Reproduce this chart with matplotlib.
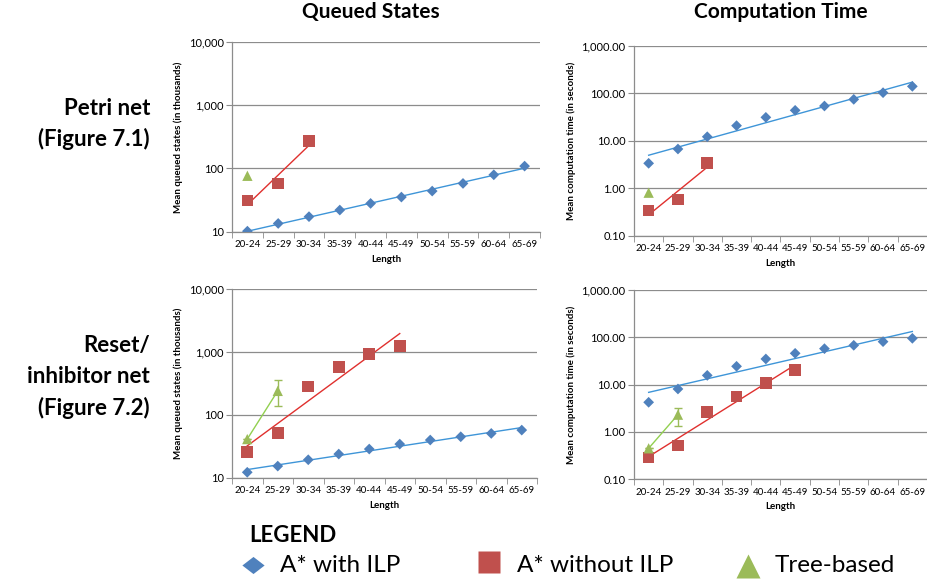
import numpy as np
import matplotlib
matplotlib.use("Agg")
import matplotlib.pyplot as plt
from matplotlib.lines import Line2D
from matplotlib.ticker import FuncFormatter, FixedLocator, NullLocator

plt.rcParams['font.family'] = ['Lato', 'DejaVu Sans']

categories = ["20-24", "25-29", "30-34", "35-39", "40-44", "45-49",
              "50-54", "55-59", "60-64", "65-69"]

# Petri net - queued states (thousands)
pn_qs_ilp = [10.2, 13.5, 17.3, 22.0, 28.0, 35.3, 43.9, 58.0, 79.4, 109.0]
pn_qs_noilp = [31.2, 58.0, 270.0]
pn_qs_tree = [76.6]
# Petri net - computation time (s)
pn_ct_ilp = [3.36, 6.73, 12.2, 20.9, 31.3, 44.0, 54.3, 75.0, 103.7, 141.0]
pn_ct_noilp = [0.337, 0.584, 3.41]
pn_ct_tree = [0.807]
# Reset/inhibitor net - queued states (thousands)
ri_qs_ilp = [12.2, 15.3, 19.3, 23.8, 28.6, 34.3, 39.8, 44.9, 50.7, 57.3]
ri_qs_noilp = [25.6, 52.0, 283.0, 582.0, 925.0, 1256.0]
ri_qs_tree = [41.2, 241.0]
ri_qs_tree_lo = [41.2, 140.0]
ri_qs_tree_hi = [41.2, 363.0]
# Reset/inhibitor net - computation time (s)
ri_ct_ilp = [4.24, 8.1, 15.7, 24.4, 34.9, 45.9, 57.6, 67.8, 81.0, 95.3]
ri_ct_noilp = [0.287, 0.514, 2.65, 5.57, 11.0, 20.4]
ri_ct_tree = [0.452, 2.32]
ri_ct_tree_lo = [0.452, 1.36]
ri_ct_tree_hi = [0.452, 3.27]

legend_labels = ["A* with ILP", "A* without ILP", "Tree-based"]

BLUE = "#4F81BD"
RED = "#C0504D"
GREEN = "#9BBB59"
BLUE_T = "#3E95D8"
RED_T = "#E0302E"
GREEN_T = "#92D050"

W, H = 928, 583
fig = plt.figure(figsize=(W / 100, H / 100), dpi=100)


def rect(l, r, t, b):
    return [l / W, 1 - b / H, (r - l) / W, (b - t) / H]


def trend(ax, y, color):
    x = np.arange(len(y))
    if len(y) < 2:
        return
    k, c = np.polyfit(x, np.log10(y), 1)
    xs = np.array([x[0], x[-1]])
    ax.plot(xs, 10 ** (k * xs + c), color=color, lw=1.0, zorder=2)


def panel(box, ylo, yhi, fmt, ylabel, ilp, noilp, tree, tree_lo=None, tree_hi=None):
    ax = fig.add_axes(rect(*box))
    ax.set_yscale("log")
    ax.set_ylim(ylo, yhi)
    ax.set_xlim(-0.5, len(categories) - 0.5)
    decades = [ylo * 10 ** i for i in range(int(round(np.log10(yhi / ylo))) + 1)]
    ax.yaxis.set_major_locator(FixedLocator(decades))
    ax.yaxis.set_minor_locator(NullLocator())
    ax.yaxis.set_major_formatter(FuncFormatter(lambda v, p: fmt.format(v)))
    ax.grid(axis="y", color="#8C8C8C", lw=0.9, zorder=0)
    ax.set_axisbelow(True)
    ax.set_xticks(np.arange(len(categories)))
    ax.set_xticklabels(categories)
    ax.xaxis.set_minor_locator(FixedLocator(np.arange(-0.5, len(categories), 1.0)))
    ax.tick_params(axis="x", which="major", length=0, labelsize=7, pad=6)
    ax.tick_params(axis="x", which="minor", length=4, color="#8C8C8C")
    ax.tick_params(axis="y", which="major", length=4, color="#8C8C8C",
                   labelsize=8, pad=2)
    for s in ["top", "right"]:
        ax.spines[s].set_visible(False)
    for s in ["left", "bottom"]:
        ax.spines[s].set_color("#8C8C8C")
        ax.spines[s].set_linewidth(0.9)
    ax.set_xlabel("Length", fontsize=7, fontweight="bold", labelpad=4)
    ax.set_ylabel(ylabel, fontsize=7, fontweight="bold", labelpad=4)

    trend(ax, ilp, BLUE_T)
    trend(ax, noilp, RED_T)
    trend(ax, tree, GREEN_T)

    ax.scatter(np.arange(len(ilp)), ilp, marker="D", s=30, color=BLUE,
               edgecolor="none", zorder=3)
    ax.scatter(np.arange(len(noilp)), noilp, marker="s", s=70, color=RED,
               edgecolor="none", zorder=3)
    ax.scatter(np.arange(len(tree)), tree, marker="^", s=55, color=GREEN,
               edgecolor="none", zorder=4)
    if tree_lo is not None:
        t = np.array(tree)
        err = [t - np.array(tree_lo), np.array(tree_hi) - t]
        ax.errorbar(np.arange(len(tree)), tree, yerr=err, fmt="none",
                    ecolor=GREEN, elinewidth=1, capsize=3, zorder=3)
    return ax


panel((232, 540, 42, 231.7), 10, 10000, "{:,.0f}",
      "Mean queued states (in thousands)", pn_qs_ilp, pn_qs_noilp, pn_qs_tree)
panel((634, 927, 46, 235.7), 0.1, 1000, "{:,.2f}",
      "Mean computation time (in seconds)", pn_ct_ilp, pn_ct_noilp, pn_ct_tree)
panel((232, 537, 289.3, 477.7), 10, 10000, "{:,.0f}",
      "Mean queued states (in thousands)", ri_qs_ilp, ri_qs_noilp, ri_qs_tree,
      ri_qs_tree_lo, ri_qs_tree_hi)
panel((634, 927, 290, 479.3), 0.1, 1000, "{:,.2f}",
      "Mean computation time (in seconds)", ri_ct_ilp, ri_ct_noilp, ri_ct_tree,
      ri_ct_tree_lo, ri_ct_tree_hi)

# column titles
fig.text(371 / W, 1 - 12 / H, "Queued States", ha="center", va="center",
         fontsize=15, fontweight="bold")
fig.text(781 / W, 1 - 12 / H, "Computation Time", ha="center", va="center",
         fontsize=15, fontweight="bold")

# row labels
fig.text(150 / W, 1 - 124 / H, "Petri net\n(Figure 7.1)", ha="right",
         va="center", fontsize=16, fontweight="bold", linespacing=1.55)
fig.text(150 / W, 1 - 377 / H, "Reset/\ninhibitor net\n(Figure 7.2)",
         ha="right", va="center", fontsize=16, fontweight="bold",
         linespacing=1.55)

# legend
fig.text(249 / W, 1 - 535 / H, "LEGEND", ha="left", va="center",
         fontsize=16, fontweight="bold")
diamond = [(-1, 0), (0, 0.77), (1, 0), (0, -0.77), (-1, 0)]
leg_items = [(diamond, BLUE, 253, 565, 16, 280),
             ("s", RED, 489, 562, 15.5, 517),
             ("^", GREEN, 748, 566, 17, 775)]
for (mk, col, mx, my, ms, tx), lab in zip(leg_items, legend_labels):
    fig.lines.append(Line2D([mx / W], [1 - my / H], marker=mk, markersize=ms,
                            color=col, markeredgecolor="none", linestyle="none",
                            transform=fig.transFigure))
    fig.text(tx / W, 1 - 565 / H, lab, ha="left", va="center", fontsize=17.5)

fig.savefig("out.png", dpi=100)
